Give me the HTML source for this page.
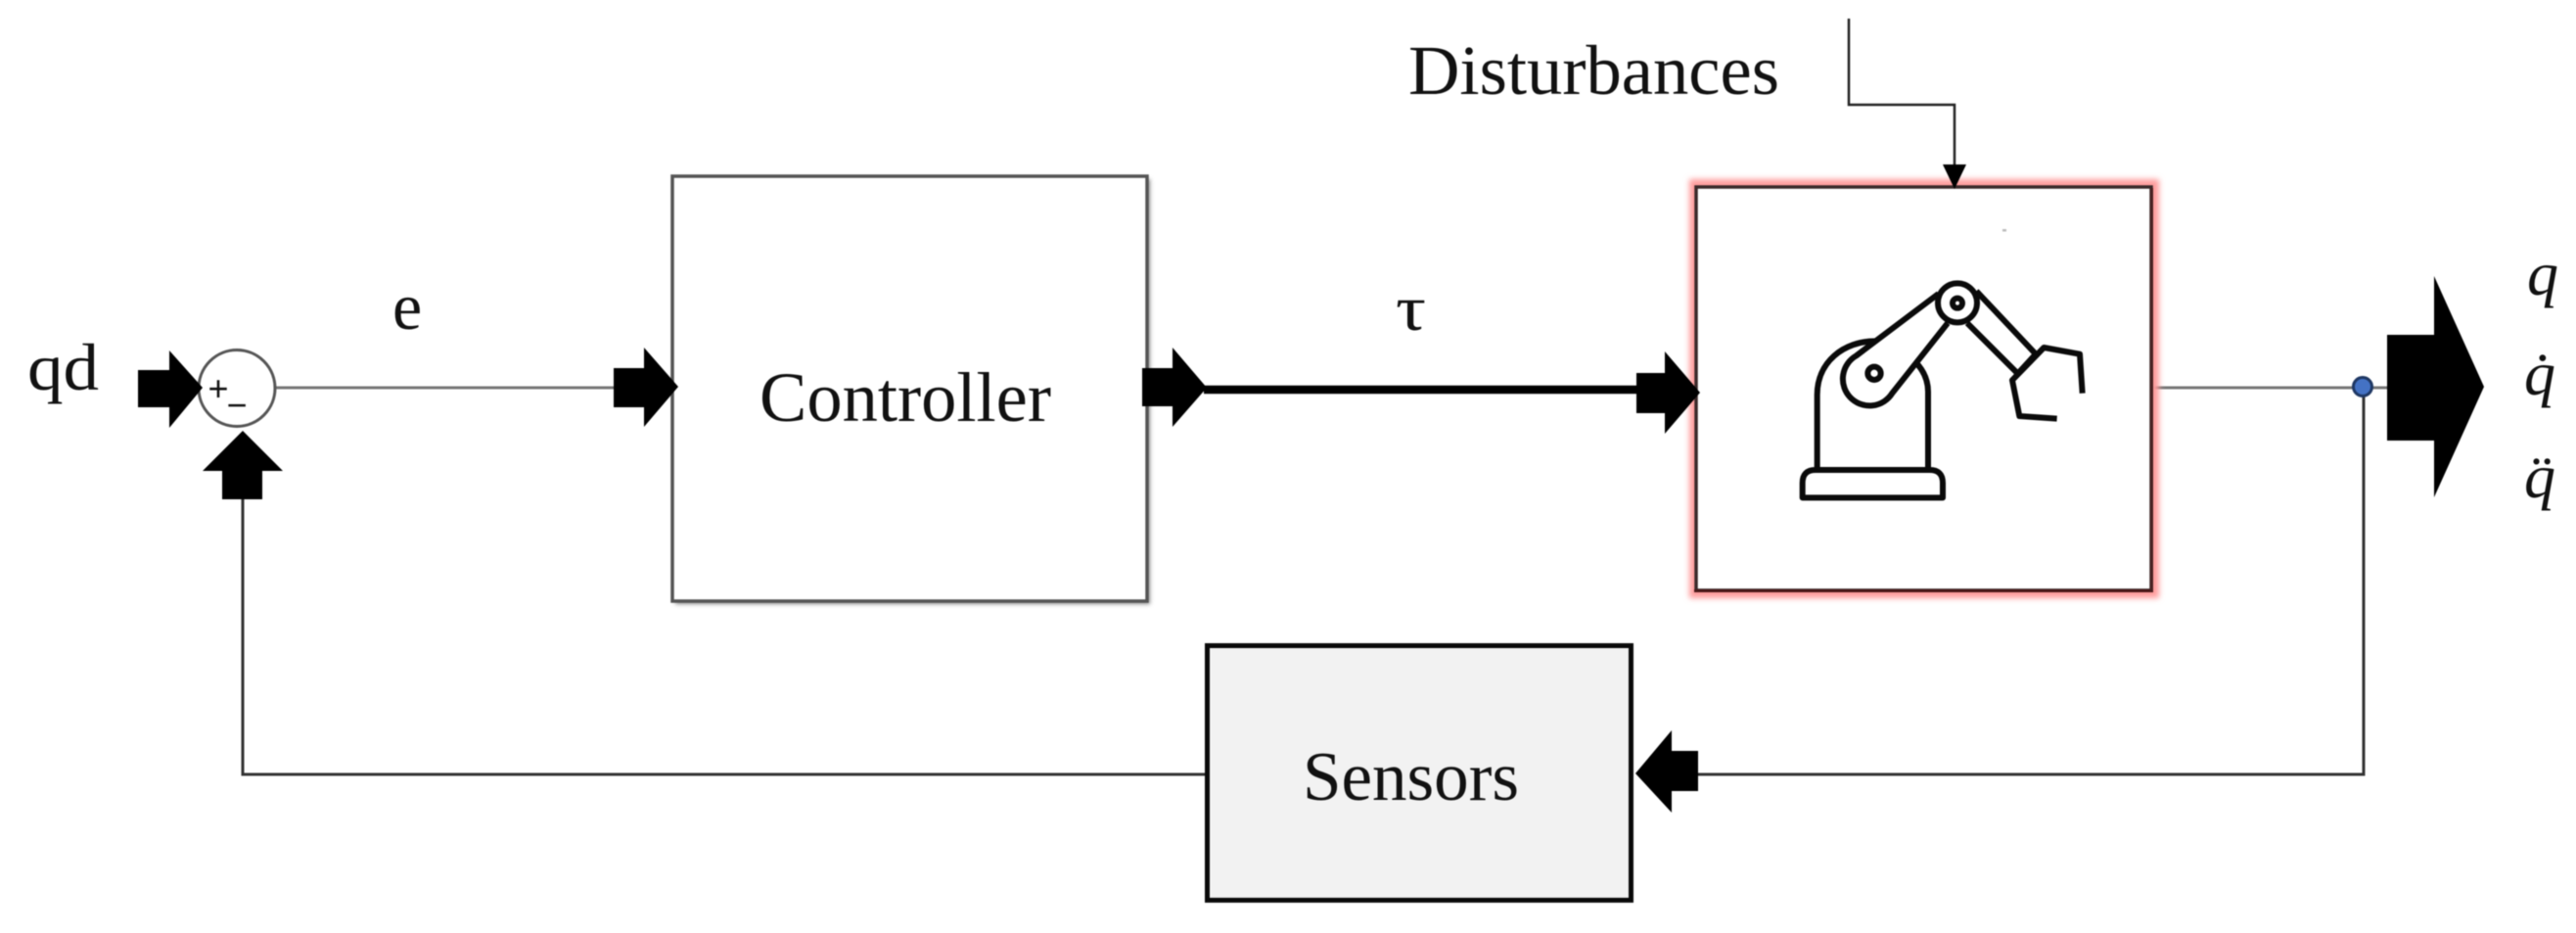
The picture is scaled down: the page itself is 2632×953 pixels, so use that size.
<!DOCTYPE html>
<html>
<head>
<meta charset="utf-8">
<style>
html,body{margin:0;padding:0;background:#fff;width:2632px;height:953px;overflow:hidden}
svg{display:block;filter:blur(0.6px)}
text{font-family:"Liberation Serif",serif;fill:#111}
</style>
</head>
<body>
<svg xmlns="http://www.w3.org/2000/svg" width="2632" height="953" viewBox="0 0 2632 953">
<defs>
<filter id="b3" x="-10%" y="-10%" width="120%" height="120%"><feGaussianBlur stdDeviation="3"/></filter>
<filter id="b2" x="-10%" y="-10%" width="120%" height="120%"><feGaussianBlur stdDeviation="2"/></filter>
</defs>
<rect width="2632" height="953" fill="#fff"/>

<!-- connectors -->
<line x1="282" y1="396" x2="630" y2="396" stroke="#777" stroke-width="3"/>
<line x1="1230" y1="398" x2="1675" y2="398" stroke="#000" stroke-width="8.5"/>
<line x1="2198" y1="396" x2="2440" y2="396" stroke="#777" stroke-width="3"/>
<polyline points="2415,396 2415,791 1733,791" fill="none" stroke="#333" stroke-width="3"/>
<polyline points="1231,791 248,791 248,508" fill="none" stroke="#333" stroke-width="3"/>
<polyline points="1889,19 1889,107 1997,107 1997,172" fill="none" stroke="#222" stroke-width="2.5"/>

<!-- Controller -->
<rect x="690" y="183" width="485" height="434" fill="#888" filter="url(#b2)"/>
<rect x="687" y="180" width="485" height="434" fill="#fff" stroke="#555" stroke-width="3.5"/>
<text x="776" y="430" font-size="72" textLength="298" lengthAdjust="spacingAndGlyphs">Controller</text>

<!-- Robot box -->
<rect x="1726" y="183" width="480" height="428" fill="#ff9c9c" filter="url(#b3)"/>
<rect x="1733" y="191" width="465" height="412" fill="#fff" stroke="#3a2a2a" stroke-width="3.5"/>
<rect x="1731" y="602" width="469" height="3" fill="#4a1818"/>
<rect x="2197" y="192" width="3" height="412" fill="#4a2222"/>
<rect x="2046" y="234" width="4" height="2.5" fill="#bbb"/>

<!-- Robot icon -->
<g transform="translate(1700,160) scale(0.33333)" fill="none" stroke="#0a0a0a" stroke-width="18" stroke-linejoin="round">
<path d="M425 1045 L855 1045 L855 1000 Q855 960 815 960 L465 960 Q425 960 425 1000 Z"/>
<path d="M470 958 L470 730 C470 630 550 565 650 565"/>
<path d="M810 958 L810 720 Q810 670 772 630"/>
<path d="M842 420 L590 610 A82 82 0 1 0 700 725 L870 510"/>
<circle cx="900" cy="448" r="60"/>
<circle cx="900" cy="449" r="15"/>
<circle cx="645" cy="664" r="20"/>
<path d="M958 412 L1140 605 L1085 665 L930 510"/>
<path d="M1283 725 L1275 605 L1165 585 L1068 685 L1090 795 L1205 803"/>
</g>

<!-- Sensors -->
<rect x="1233.5" y="659.5" width="433" height="260" fill="#f2f2f2" stroke="#0a0a0a" stroke-width="5"/>
<text x="1331" y="817" font-size="71" textLength="221" lengthAdjust="spacingAndGlyphs">Sensors</text>

<!-- Summing junction -->
<circle cx="242" cy="396.5" r="39" fill="#fff" stroke="#555" stroke-width="3"/>
<text x="223" y="409" font-size="36" text-anchor="middle" style="font-family:'Liberation Sans',sans-serif">+</text>
<text x="242" y="426" font-size="36" text-anchor="middle" style="font-family:'Liberation Sans',sans-serif">−</text>

<!-- block arrows -->
<polygon points="141,378 173,378 173,358 207,396 173,437 173,416 141,416" fill="#000"/>
<polygon points="248,440 289,481 268,481 268,510 227,510 227,481 207,481" fill="#000"/>
<polygon points="627,376 658,376 658,355 693,395 658,436 658,416 627,416" fill="#000"/>
<polygon points="1167,376 1198,376 1198,355 1233,396 1198,436 1198,415 1167,415" fill="#000"/>
<polygon points="1672,381 1701,381 1701,359 1737,401 1701,443 1701,422 1672,422" fill="#000"/>
<polygon points="2439,342 2487,342 2487,282 2538,395 2487,508 2487,450 2439,450" fill="#000"/>
<polygon points="1671,790 1708,746 1708,767 1735,767 1735,808 1708,808 1708,830" fill="#000"/>
<polygon points="1985,168 2009,168 1997,193" fill="#000"/>

<!-- output dot -->
<circle cx="2414" cy="395" r="9.5" fill="#4472c4" stroke="#1f3864" stroke-width="3"/>

<!-- labels -->
<text x="28" y="398" font-size="68" textLength="73" lengthAdjust="spacingAndGlyphs">qd</text>
<text x="401" y="336" font-size="68">e</text>
<text x="1426" y="337" font-size="66" textLength="31" lengthAdjust="spacingAndGlyphs">τ</text>
<text x="1439" y="96" font-size="72" textLength="379" lengthAdjust="spacingAndGlyphs">Disturbances</text>
<text x="2582" y="301" font-size="64" font-style="italic">q</text>
<text x="2579" y="403" font-size="64" font-style="italic">q̇</text>
<text x="2579" y="508" font-size="64" font-style="italic">q̈</text>
</svg>
</body>
</html>
